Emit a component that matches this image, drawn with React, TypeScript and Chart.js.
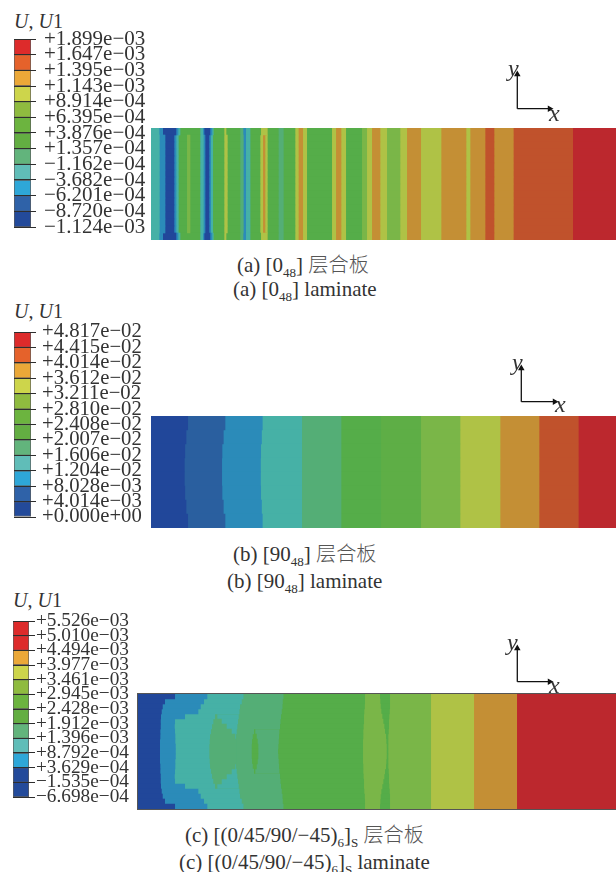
import React, { useEffect, useRef } from "react";
import { Chart, registerables } from "chart.js";

Chart.register(...registerables);

const SERIF = '"Liberation Serif", "Noto Sans CJK SC", serif';

// contour fill colours on the plate (low to high)
const DK = "#21479a", B2 = "#2a5f9f", SK = "#2b8bb9", TE = "#46b1a6", SE = "#54ae76",
  G1 = "#55ad49", G2 = "#5eae46", LI = "#7ab648", YG = "#afc246", OR = "#c48f35", OD = "#c0522c", RD = "#bc282e";

// legend colours (low to high)
const LEGEND_A = ["#234a9a", "#2f62a8", "#2ea7d8", "#60bdb8", "#62b47c", "#63ae42", "#6cb43f", "#8fbb3f", "#cdd54b", "#eba838", "#e5622b", "#dd2b2b"];
const LEGEND_B = LEGEND_A;
const LEGEND_C = ["#234a9a", "#234a9a", "#2ea7d8", "#60bdb8", "#62b47c", "#63ae42", "#6cb43f", "#8fbb3f", "#cdd54b", "#eba838", "#dd2b2b", "#dd2b2b"];

const LABELS_A = ["−1.124e−03", "−8.720e−04", "−6.201e−04", "−3.682e−04", "−1.162e−04", "+1.357e−04", "+3.876e−04", "+6.395e−04", "+8.914e−04", "+1.143e−03", "+1.395e−03", "+1.647e−03", "+1.899e−03"];
const LABELS_B = ["+0.000e+00", "+4.014e−03", "+8.028e−03", "+1.204e−02", "+1.606e−02", "+2.007e−02", "+2.408e−02", "+2.810e−02", "+3.211e−02", "+3.612e−02", "+4.014e−02", "+4.415e−02", "+4.817e−02"];
const LABELS_C = ["−6.698e−04", "−1.535e−04", "+3.629e−04", "+8.792e−04", "+1.396e−03", "+1.912e−03", "+2.428e−03", "+2.945e−03", "+3.461e−03", "+3.977e−03", "+4.494e−03", "+5.010e−03", "+5.526e−03"];

// Plate (a): bands left to right, and where each band ends along the plate
const BANDS_A = [TE, SK, DK, SK, TE, G1, LI, G1, TE, SK, DK, SK, TE, G1, YG, G1, SE, SK, TE, G1, YG, OR, YG, G1, SE, G1, YG, OR, YG, G1, YG, OR, YG, G1, LI, YG, OR, YG, LI, YG, OR, YG, OR, YG, OR, OD, OR, OD, RD];
const A_EDGE = [8, 11.7, 25, 27, 29, 35.7, 35.7, 49, 51.7, 53, 59, 61, 62.3, 73, 75, 89, 92, 94.7, 99, 109.7, 115.7, 115.7, 116.3, 127.3, 132.3, 144, 147.3, 151.7, 155.7, 180.7, 184.7, 190, 194.7, 210.7, 215.7, 220.7, 229, 235.7, 249, 255.7, 269.7, 290, 315, 319, 334, 343, 362.3, 421.7, 465];
const A_MID = [8.3, 14, 23, 25, 27.3, 35.7, 39, 49, 52.3, 54, 58, 59.7, 61.7, 73, 76.3, 89, 92.3, 94.7, 99, 109, 111.7, 114, 116.3, 127.3, 132.3, 144, 147.3, 151.7, 155.7, 180.7, 184.7, 190, 194.7, 210.7, 215.7, 220.7, 229, 235.7, 249, 255.7, 269.7, 290, 315, 319, 334, 343, 362.3, 421.7, 465];
const ROWS_A = [A_EDGE, A_MID, A_MID, A_MID, A_MID, A_MID, A_MID, A_MID, A_MID, A_MID, A_MID, A_MID, A_MID, A_MID, A_MID, A_EDGE];

// Plate (b)
const BANDS_B = [DK, B2, SK, TE, SE, G1, G2, LI, YG, OR, OD, RD];
const ROWS_B = [
  [36.7, 74, 111.3, 150.7, 190, 229.7, 269.7, 309, 349, 388, 427.3, 465],
  [35, 72.3, 110.5, 150.7, 190, 229.7, 269.7, 309, 349, 388, 427.3, 465],
  [33.8, 71, 109.7, 150.7, 190, 229.7, 269.7, 309, 349, 388, 427.3, 465],
  [33.3, 70.7, 109.5, 150.7, 190, 229.7, 269.7, 309, 349, 388, 427.3, 465],
  [33.3, 70.7, 109.5, 150.7, 190, 229.7, 269.7, 309, 349, 388, 427.3, 465],
  [33.8, 71, 109.7, 150.7, 190, 229.7, 269.7, 309, 349, 388, 427.3, 465],
  [35, 72.3, 110.5, 150.7, 190, 229.7, 269.7, 309, 349, 388, 427.3, 465],
  [36.7, 74, 111.3, 150.7, 190, 229.7, 269.7, 309, 349, 388, 427.3, 465],
];

// Plate (c): top half down to the centre row
const BANDS_C = [DK, SK, TE, SE, TE, SE, G1, SE, G1, LI, G1, LI, YG, OR, RD];
const HALF_C = [
  [36.7, 69, 105, 105, 105, 145, 145, 145, 226.7, 241.7, 251.7, 292.7, 335.7, 378.7, 477.7],
  [26.7, 65.7, 103.4, 103.4, 103.4, 144.4, 144.4, 144.4, 226.7, 242, 251.7, 292.7, 335.7, 378.7, 477.7],
  [24.4, 62.4, 101.7, 101.7, 101.7, 144, 144, 144, 226.5, 242.4, 251.7, 292.7, 335.7, 378.7, 477.7],
  [23.4, 60, 101, 101, 101, 143.4, 143.4, 143.4, 226, 243, 251.4, 292.7, 335.7, 378.7, 477.7],
  [22.7, 46.7, 76.7, 79, 100.4, 142.7, 142.7, 142.7, 225.7, 244, 251, 292.7, 335.7, 378.7, 477.7],
  [22.4, 36.7, 75, 83.4, 99.7, 142, 142, 142, 225.7, 245, 250.7, 292.7, 335.7, 378.7, 477.7],
  [22.4, 36.4, 73.7, 88.4, 99, 141.7, 141.7, 141.7, 225.3, 246, 250.7, 292.7, 335.7, 378.7, 477.7],
  [22, 36.7, 72.7, 93.4, 98.4, 115.7, 117, 141, 225, 246.7, 250.4, 292.7, 335.7, 378.7, 477.7],
  [22, 37, 71.7, 97, 97.7, 114.4, 118.4, 140.7, 225, 247.7, 250, 292.7, 335.7, 378.7, 477.7],
  [21.7, 37, 71.4, 97.7, 97.7, 113.7, 119.4, 140.4, 224.7, 248, 250, 292.7, 335.7, 378.7, 477.7],
  [21.7, 37.4, 71, 97.7, 97.7, 113.4, 120, 140, 224.7, 248.4, 250, 292.7, 335.7, 378.7, 477.7],
  [21.7, 37.4, 71, 97.7, 97.7, 113.4, 120, 139.7, 224.7, 248.4, 250, 292.7, 335.7, 378.7, 477.7],
];
const ROWS_C = [...HALF_C, ...HALF_C.slice(0, -1).reverse()];

const TRIAD_X = [{ x: 0, y: 0 }, { x: 1, y: 0 }];
const TRIAD_Y = [{ x: 0, y: 0 }, { x: 0, y: 1 }];

function useChart(make: (c: HTMLCanvasElement) => Chart) {
  const ref = useRef<HTMLCanvasElement>(null);
  useEffect(() => {
    const chart = make(ref.current!);
    return () => chart.destroy();
  }, []);
  return ref;
}

function Plate({ left, top, width, height, bands, rows, border, blur }: any) {
  const ref = useChart((c) =>
    new Chart(c, {
      type: "bar",
      data: {
        labels: rows.map((_: any, i: number) => i),
        // dataset 0 paints last, so each band runs from 0 to its end and covers the next one
        datasets: bands.map((color: string, s: number) => ({
          data: rows.map((r: number[]) => r[s]),
          backgroundColor: color,
          borderWidth: 0,
          barPercentage: 1,
          categoryPercentage: 1,
        })),
      },
      options: {
        indexAxis: "y",
        responsive: false,
        animation: false,
        devicePixelRatio: 1,
        layout: { padding: 0 },
        plugins: { legend: { display: false }, tooltip: { enabled: false } },
        scales: {
          x: { display: false, min: 0, max: width, stacked: false },
          y: { display: false, stacked: true },
        },
      },
    } as any)
  );
  return (
    <canvas
      ref={ref}
      width={width}
      height={height}
      style={{ position: "absolute", left, top, width, height, filter: `blur(${blur}px)`, boxShadow: border ? "0 0 0 1px #555" : "none" }}
    />
  );
}

function Legend({ left, top, barWidth, height, labels, colors, fontSize, tick, pad }: any) {
  const levels = labels.map((s: string) => parseFloat(s.replace(/−/g, "-")));
  const m = 14;
  const width = 150;
  const ref = useChart((c) =>
    new Chart(c, {
      type: "bar",
      data: {
        labels: ["U1"],
        datasets: colors.map((color: string, i: number) => ({
          data: [[levels[i], levels[i + 1]]],
          backgroundColor: color,
          borderColor: "#5c5c5c",
          borderWidth: 1,
          borderSkipped: false,
          barPercentage: 1,
          categoryPercentage: 1,
        })),
      },
      options: {
        responsive: false,
        animation: false,
        devicePixelRatio: 1,
        layout: { padding: { top: m, bottom: m, left: 0, right: 0 } },
        plugins: { legend: { display: false }, tooltip: { enabled: false } },
        scales: {
          x: { display: false, stacked: true },
          y: {
            position: "right",
            min: levels[0],
            max: levels[levels.length - 1],
            afterBuildTicks: (s: any) => {
              s.ticks = levels.map((v: number) => ({ value: v }));
            },
            afterFit: (s: any) => {
              s.width = width - barWidth;
              s.paddingTop = 0;
              s.paddingBottom = 0;
            },
            border: { display: false },
            grid: { color: "#2e2e2e", lineWidth: 1, tickLength: tick, z: 1 },
            ticks: {
              autoSkip: false,
              padding: pad,
              color: "#333",
              font: { family: SERIF, size: fontSize },
              callback: (_: any, i: number) => labels[i],
            },
          },
        },
      },
    } as any)
  );
  return (
    <canvas
      ref={ref}
      width={width}
      height={height + 2 * m}
      style={{ position: "absolute", left, top: top - m, width, height: height + 2 * m }}
    />
  );
}

function Triad({ ox, oy, len, lenY }: any) {
  const p = 5;
  const w = len + 2 * p;
  const h = lenY + 2 * p;
  const ref = useChart((c) =>
    new Chart(c, {
      type: "scatter",
      data: {
        datasets: [
          { data: TRIAD_X, showLine: true, borderColor: "#111", borderWidth: 1.3, backgroundColor: "#111", pointRadius: [0, 2.5], pointStyle: "triangle", pointRotation: 90, clip: false },
          { data: TRIAD_Y, showLine: true, borderColor: "#111", borderWidth: 1.3, backgroundColor: "#111", pointRadius: [0, 2.5], pointStyle: "triangle", pointRotation: 0, clip: false },
        ],
      },
      options: {
        responsive: false,
        animation: false,
        devicePixelRatio: 1,
        layout: { padding: p },
        plugins: { legend: { display: false }, tooltip: { enabled: false } },
        scales: { x: { display: false, min: 0, max: 1 }, y: { display: false, min: 0, max: 1 } },
      },
    } as any)
  );
  return <canvas ref={ref} width={w} height={h} style={{ position: "absolute", left: ox - p, top: oy - lenY - p, width: w, height: h }} />;
}

function T({ x, y, size = 21, children }: any) {
  return (
    <div style={{ position: "absolute", left: x, top: y - size / 2, fontFamily: SERIF, fontSize: size, lineHeight: `${size}px`, whiteSpace: "nowrap", color: "#333" }}>
      {children}
    </div>
  );
}

const Sub = ({ children }: any) => <sub style={{ fontSize: "0.62em", lineHeight: 0 }}>{children}</sub>;
const Cn = ({ children }: any) => <span style={{ color: "#555", fontWeight: 300, fontSize: "0.96em" }}>{children}</span>;

export default function App() {
  return (
    <div style={{ position: "absolute", left: 0, top: 0, width: 616, height: 872, overflow: "hidden", background: "#fff", filter: "blur(0.3px)" }}>
      <T x={14} y={21} size={20}><i>U</i>, <i>U</i>1</T>
      <Legend left={14} top={39} barWidth={17} height={188} labels={LABELS_A} colors={LEGEND_A} fontSize={21} tick={5} pad={8} />
      <Plate left={151} top={128} width={465} height={112} bands={BANDS_A} rows={ROWS_A} blur={0.6} />
      <Triad ox={517} oy={109} len={33} lenY={35} />
      <T x={508} y={68} size={24}><i>y</i></T>
      <T x={549} y={113} size={24}><i>x</i></T>
      <T x={237} y={265}>(a) [0<Sub>48</Sub>] <Cn>层合板</Cn></T>
      <T x={233} y={289}>(a) [0<Sub>48</Sub>] laminate</T>

      <T x={14} y={311} size={20}><i>U</i>, <i>U</i>1</T>
      <Legend left={14} top={332} barWidth={17} height={185} labels={LABELS_B} colors={LEGEND_B} fontSize={20.7} tick={5} pad={6} />
      <Plate left={151} top={416} width={465} height={112} bands={BANDS_B} rows={ROWS_B} blur={0.5} />
      <Triad ox={521} oy={402} len={34} lenY={34} />
      <T x={512} y={362} size={24}><i>y</i></T>
      <T x={555} y={404} size={24}><i>x</i></T>
      <T x={233} y={554}>(b) [90<Sub>48</Sub>] <Cn>层合板</Cn></T>
      <T x={227} y={581}>(b) [90<Sub>48</Sub>] laminate</T>

      <T x={13} y={600} size={20}><i>U</i>, <i>U</i>1</T>
      <Legend left={13} top={621} barWidth={16} height={176} labels={LABELS_C} colors={LEGEND_C} fontSize={19.3} tick={6} pad={1} />
      <Plate left={138} top={694} width={478} height={115} bands={BANDS_C} rows={ROWS_C} border blur={0.5} />
      <Triad ox={517} oy={682} len={33} lenY={34} />
      <T x={507} y={642} size={24}><i>y</i></T>
      <T x={549} y={685} size={24}><i>x</i></T>
      <T x={185} y={835}>(c) [(0/45/90/−45)<Sub>6</Sub>]<Sub>S</Sub> <Cn>层合板</Cn></T>
      <T x={179} y={862}>(c) [(0/45/90/−45)<Sub>6</Sub>]<Sub>S</Sub> laminate</T>
    </div>
  );
}
